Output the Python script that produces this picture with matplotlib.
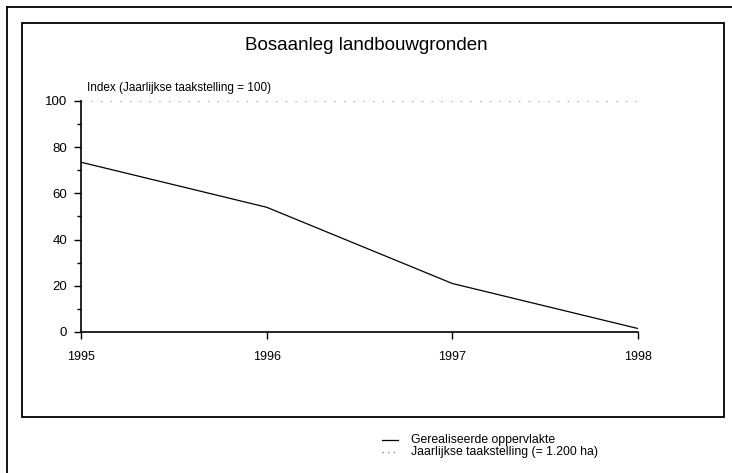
import matplotlib
matplotlib.use("Agg")
import matplotlib.pyplot as plt
from matplotlib.lines import Line2D

years = [1995, 1996, 1997, 1998]
realised = [73.5, 54, 21, 1.5]
target = [100, 100, 100, 100]
y_ticks = [0, 20, 40, 60, 80, 100]
x_ticks = [1995, 1996, 1997, 1998]

title = "Bosaanleg landbouwgronden"
ylabel = "Index (Jaarlijkse taakstelling = 100)"
legend_labels = ["Gerealiseerde oppervlakte", "Jaarlijkse taakstelling (= 1.200 ha)"]

plt.rcParams['font.family'] = ["Liberation Sans", "DejaVu Sans"]

W, H = 732, 473
fig = plt.figure(figsize=(W / 100, H / 100), dpi=100)

def fx(px):
    return px / W

def fy(py):
    return 1 - py / H

# outer frame (top and left only visible)
fig.add_artist(Line2D([fx(7), 1.0], [fy(7), fy(7)], color="black", lw=1.3, transform=fig.transFigure))
fig.add_artist(Line2D([fx(7), fx(7)], [fy(7), 0.0], color="black", lw=1.3, transform=fig.transFigure))
# inner frame
fig.add_artist(plt.Rectangle((fx(22), fy(417)), fx(724) - fx(22), fy(23) - fy(417),
                             fill=False, edgecolor="black", lw=1.3, transform=fig.transFigure))

ax = fig.add_axes([fx(81), fy(332), fx(638) - fx(81), fy(101) - fy(332)])
ax.plot(years, target, color="#aaaaaa", lw=1.0, linestyle=(0, (1, 6)))
ax.plot(years, realised, color="black", lw=0.9)
ax.set_xlim(1995, 1998)
ax.set_ylim(0, 100)
ax.set_yticks(y_ticks)
ax.set_yticks([10, 30, 50, 70, 90], minor=True)
ax.set_xticks(x_ticks)
ax.set_xticklabels([str(x) for x in x_ticks])
for s in ["top", "right"]:
    ax.spines[s].set_visible(False)
ax.spines["left"].set_linewidth(1.2)
ax.spines["bottom"].set_linewidth(1.2)
ax.tick_params(axis="y", direction="out", length=5, width=1, labelsize=9.5, pad=5)
ax.tick_params(axis="y", which="minor", direction="out", length=3, width=1)
ax.tick_params(axis="x", direction="out", length=5, width=1, labelsize=9, pad=9)
ax.patch.set_alpha(0)

fig.text(fx(366), fy(45), title, ha="center", va="center", fontsize=13.5)
fig.text(fx(87), fy(88), ylabel, ha="left", va="center", fontsize=8.5)

# legend
fig.add_artist(Line2D([fx(382), fx(398)], [fy(440), fy(440)], color="black", lw=0.9, transform=fig.transFigure))
fig.add_artist(Line2D([fx(382), fx(398)], [fy(452), fy(452)], color="#888888", lw=1.0,
                      linestyle=(0, (1, 3)), transform=fig.transFigure))
fig.text(fx(411), fy(440), legend_labels[0], ha="left", va="center", fontsize=8.8)
fig.text(fx(411), fy(452), legend_labels[1], ha="left", va="center", fontsize=8.8)

fig.savefig("out.png", dpi=100)
